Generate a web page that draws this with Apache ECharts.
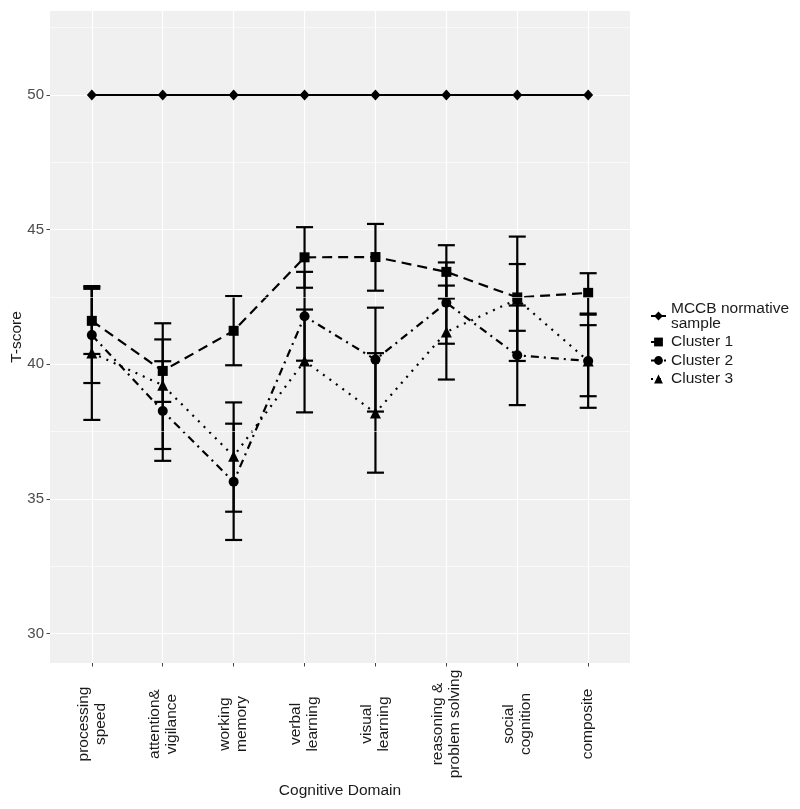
<!DOCTYPE html>
<html>
<head>
<meta charset="utf-8">
<script src="https://cdn.jsdelivr.net/npm/echarts@6/dist/echarts.min.js"></script>
<style>
html,body{margin:0;padding:0;background:#fff;}
#chart{width:800px;height:809px;}
</style>
</head>
<body>
<div id="chart"></div>
<script>
// ---- data ----
const categories = ['processing\nspeed', 'attention&\nvigilance', 'working\nmemory', 'verbal\nlearning',
  'visual\nlearning', 'reasoning &\nproblem solving', 'social\ncognition', 'composite'];
const yTicks = [30, 35, 40, 45, 50];
const yMinorGrid = [32.5, 37.5, 42.5, 47.5, 52.5];
const seriesNames = ['MCCB normative\nsample', 'Cluster 1', 'Cluster 2', 'Cluster 3'];

const mccb = [50, 50, 50, 50, 50, 50, 50, 50];

const c1   = [41.61, 39.75, 41.24, 43.97, 43.98, 43.43, 42.48, 42.65];
const c1Lo = [40.38, 38.60, 39.96, 42.84, 42.73, 42.44, 41.24, 41.88];
const c1Hi = [42.86, 40.92, 42.53, 45.09, 45.21, 44.42, 43.72, 43.38];

const c2   = [41.08, 38.26, 35.63, 41.78, 40.17, 42.28, 40.33, 40.12];
const c2Lo = [39.30, 36.41, 33.47, 40.13, 38.24, 40.76, 38.48, 38.38];
const c2Hi = [42.80, 40.11, 37.79, 43.43, 42.10, 43.78, 42.18, 41.84];

const c3   = [40.42, 39.22, 36.58, 40.12, 38.19, 41.20, 42.41, 40.12];
const c3Lo = [37.93, 36.85, 34.52, 38.21, 35.97, 39.43, 40.12, 38.81];
const c3Hi = [42.90, 41.52, 38.58, 42.03, 40.41, 42.92, 44.74, 41.45];

// ---- helpers ----
const idx = categories.map((_, i) => i);
const pts = arr => arr.map((v, i) => [i, v]);
const bars = (lo, hi) => lo.map((l, i) => [i, l, hi[i]]);

const FONT = 'Liberation Sans, Arial, sans-serif';

function errRender(params, api) {
  const x = api.value(0);
  const a = api.coord([x, api.value(1)]);
  const b = api.coord([x, api.value(2)]);
  const hw = 8.5;
  const style = { stroke: '#000', lineWidth: 2.2 };
  return {
    type: 'group',
    children: [
      { type: 'line', shape: { x1: a[0], y1: a[1], x2: b[0], y2: b[1] }, style },
      { type: 'line', shape: { x1: a[0] - hw, y1: a[1], x2: a[0] + hw, y2: a[1] }, style },
      { type: 'line', shape: { x1: b[0] - hw, y1: b[1], x2: b[0] + hw, y2: b[1] }, style }
    ]
  };
}

function lineSeries(name, data, symbol, size, dash) {
  return {
    name, type: 'line', data: pts(data), symbol, symbolSize: size,
    itemStyle: { color: '#000' },
    lineStyle: { color: '#000', width: 2.2, type: dash, cap: 'butt' },
    z: 3, animation: false
  };
}

const chart = echarts.init(document.getElementById('chart'), null, { renderer: 'canvas' });

chart.setOption({
  animation: false,
  backgroundColor: '#ffffff',
  grid: {
    left: 50, top: 11, width: 580, height: 652,
    show: true, backgroundColor: '#F0F0F0', borderWidth: 0,
    containLabel: false, outerBoundsMode: 'none'
  },
  xAxis: {
    type: 'value', min: -0.59, max: 7.59,
    name: 'Cognitive Domain', nameLocation: 'middle', nameGap: 120, nameMoveOverlap: false,
    nameTextStyle: { fontFamily: FONT, fontSize: 15.5, color: '#1a1a1a' },
    axisLine: { show: false, onZero: false },
    axisTick: { show: true, customValues: idx, length: 3.5, lineStyle: { color: '#444', width: 1 } },
    axisLabel: {
      customValues: idx, rotate: 90, align: 'center', verticalAlign: 'middle', margin: 61,
      fontFamily: FONT, fontSize: 15.5, lineHeight: 17, color: '#1a1a1a',
      formatter: v => categories[Math.round(v)]
    },
    splitLine: { show: true, lineStyle: { color: '#ffffff', width: 1.2 } }
  },
  yAxis: {
    type: 'value', min: 28.9, max: 53.12,
    name: 'T-score', nameLocation: 'middle', nameGap: 25, nameRotate: 90, nameMoveOverlap: false,
    nameTextStyle: { fontFamily: FONT, fontSize: 15.5, color: '#1a1a1a' },
    axisLine: { show: false, onZero: false },
    axisTick: { show: true, customValues: yTicks, length: 3.5, lineStyle: { color: '#444', width: 1 } },
    axisLabel: { customValues: yTicks, margin: 6, fontFamily: FONT, fontSize: 15, color: '#4D4D4D' },
    splitLine: { show: true, lineStyle: { color: '#ffffff', width: 1.2 } }
  },
  legend: {
    orient: 'vertical', left: 645, top: 295.5, itemGap: 2.5, padding: 5,
    itemWidth: 15, itemHeight: 11,
    data: seriesNames,
    textStyle: { fontFamily: FONT, fontSize: 15.5, lineHeight: 15, color: '#1a1a1a' }
  },
  series: [
    {
      name: 'minorGrid', type: 'line', data: [], z: 1, silent: true,
      markLine: {
        silent: true, symbol: 'none', label: { show: false }, animation: false,
        lineStyle: { color: '#ffffff', width: 0.6, type: 'solid' },
        data: yMinorGrid.map(v => ({ yAxis: v }))
      }
    },
    lineSeries(seriesNames[0], mccb, 'diamond', [10, 11], 'solid'),
    lineSeries(seriesNames[1], c1, 'rect', 10, [10, 6]),
    lineSeries(seriesNames[2], c2, 'circle', 10, [8, 5, 2, 5]),
    lineSeries(seriesNames[3], c3, 'triangle', 11, [2, 6]),
    { type: 'custom', name: 'err1', data: bars(c1Lo, c1Hi), renderItem: errRender, z: 4, silent: true },
    { type: 'custom', name: 'err2', data: bars(c2Lo, c2Hi), renderItem: errRender, z: 4, silent: true },
    { type: 'custom', name: 'err3', data: bars(c3Lo, c3Hi), renderItem: errRender, z: 4, silent: true }
  ]
});
</script>
</body>
</html>
